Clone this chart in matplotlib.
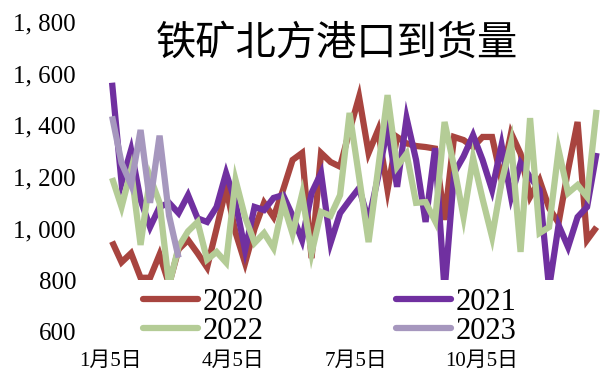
import matplotlib
matplotlib.use("Agg")
import matplotlib.pyplot as plt
from matplotlib.patches import Rectangle
from matplotlib.ticker import FuncFormatter

plt.rcParams['font.family'] = ['Liberation Serif', 'Noto Sans CJK SC']

# weekly arrivals, starting early January
y2020 = [950, 870, 905, 810, 810, 900, 785, 920, 956, 905,
         850, 1000, 1158, 985, 867, 1000, 1100, 1045, 1150, 1266,
         1293, 886, 1293, 1258, 1240, 1380, 1510, 1293, 1382, 1150,
         1355, 1330, 1320, 1316, 1310, 1034, 1355, 1343, 1316, 1355,
         1355, 1188, 1370, 1290, 1123, 1188, 1080, 1022, 1227, 1413,
         956, 1006]
y2021 = [1565, 1177, 1305, 1111, 1006, 1084, 1100, 1060, 1130, 1040,
         1026, 1084, 1215, 1100, 917, 1084, 1072, 1119, 1130, 1050,
         956, 1138, 1215, 945, 1060, 1110, 1157, 1030, 1200, 1394,
         1162, 1428, 1266, 1026, 1312, 760, 1215, 1280, 1362, 1266,
         1150, 1324, 1123, 1254, 1200, 1150, 770, 1014, 929, 1045,
         1084, 1293]
y2022 = [1196, 1084, 1227, 937, 1200, 1100, 780, 930, 990, 1026,
         880, 910, 869, 1188, 1045, 945, 983, 925, 1100, 980,
         1134, 905, 1065, 1050, 1130, 1448, 1200, 948, 1230, 1517,
         1240, 1290, 1100, 1103, 1030, 1413, 1240, 1045, 1274, 1115,
         968, 1180, 1331, 910, 1428, 983, 1006, 1305, 1138, 1169,
         1123, 1460]
y2023 = [1435, 1254, 1170, 1382, 1100, 1360, 1050, 888]

tick_days = [0, 90, 181, 273]
tick_labels = ['1月5日', '4月5日', '7月5日', '10月5日']
yticks = [600, 800, 1000, 1200, 1400, 1600, 1800]

series = [
    ('2020', y2020, '#A8443F'),
    ('2021', y2021, '#7030A0'),
    ('2022', y2022, '#B4CC96'),
    ('2023', y2023, '#A697BE'),
]

fig = plt.figure(figsize=(6.09, 3.74), dpi=100)
ax = fig.add_axes([108 / 609, 1 - 332 / 374, 494 / 609, 310 / 374])

xmin, xmax = -2, 362
# lines are hidden below 800 (legend area)
clip = Rectangle((xmin, 800), xmax - xmin, 1100, transform=ax.transData)

handles = {}
for name, vals, col in series:
    days = [1 + 7 * i for i in range(len(vals))]
    ln, = ax.plot(days, vals, color=col, lw=4.5, solid_joinstyle='miter',
                  solid_capstyle='butt', label=name)
    ln.set_clip_path(clip)
    handles[name] = ln

ax.set_xlim(xmin, xmax)
ax.set_ylim(600, 1800)
ax.set_yticks(yticks)
ax.yaxis.set_major_formatter(FuncFormatter(lambda v, p: f"{v:,.0f}".replace(",", ", ")))
ax.set_xticks(tick_days)
ax.set_xticklabels(tick_labels)
ax.tick_params(axis='y', length=0, pad=23, labelsize=18)
ax.tick_params(axis='x', length=0, pad=14, labelsize=15)
for s in ax.spines.values():
    s.set_visible(False)

order = ['2020', '2022', '2021', '2023']
leg = ax.legend([handles[k] for k in order], order, ncol=2, frameon=False,
                loc='upper left', bbox_to_anchor=(0.039, 0.191),
                fontsize=22, handlelength=1.8, handletextpad=0.15,
                columnspacing=4.36, labelspacing=0.0, borderpad=0)
for h in leg.get_lines():
    h.set_linewidth(4.5)
    h.set_solid_capstyle('round')

fig.text(337 / 609, 1 - 43 / 374, '铁矿北方港口到货量', ha='center', va='center',
         fontsize=29, family=['Noto Sans CJK SC'])

fig.savefig('out.png', dpi=100)
